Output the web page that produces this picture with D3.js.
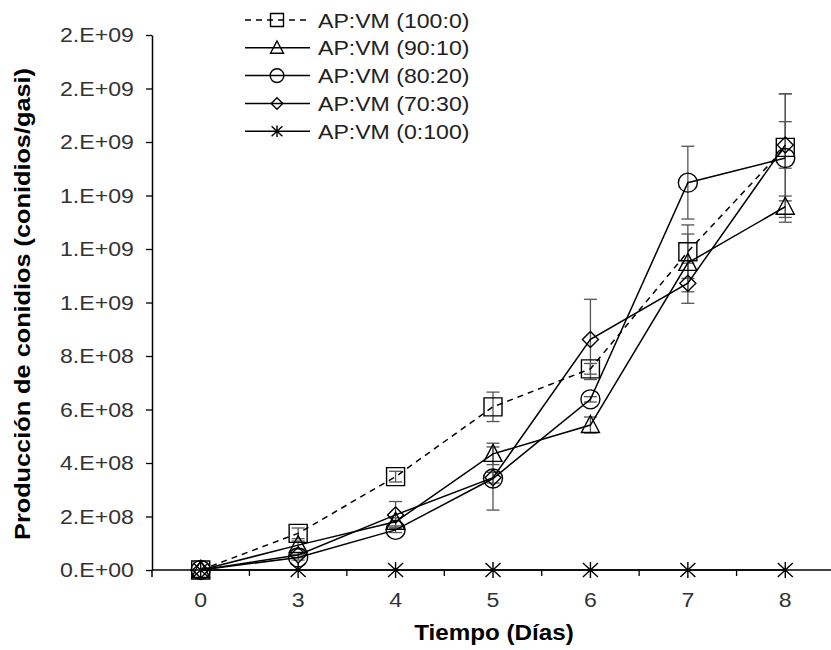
<!DOCTYPE html>
<html><head><meta charset="utf-8">
<script src="https://cdn.jsdelivr.net/npm/d3@7"></script>
<style>body{margin:0;background:#fff}text{font-family:"Liberation Sans",Arial,sans-serif}</style>
</head><body>
<svg id="c" width="831" height="650"></svg>
<script>
// ---- data ----
const days = ["0","3","4","5","6","7","8"];
const seriesNames = ["AP:VM (100:0)","AP:VM (90:10)","AP:VM (80:20)","AP:VM (70:30)","AP:VM (0:100)"];
const v100_0 = [0, 1.37e8, 3.49e8, 6.10e8, 7.52e8, 1.19e9, 1.58e9];
const e100_0 = [0, 0.2e8, 0.2e8, 0.55e8, 0.2e8, 1.0e8, 2.0e8];
const v90_10 = [0, 0.93e8, 1.80e8, 4.34e8, 5.42e8, 1.148e9, 1.358e9];
const e90_10 = [0, 0.15e8, 0.15e8, 0.4e8, 0.3e8, 1.08e8, 0.4e8];
const v80_20 = [0, 0.47e8, 1.50e8, 3.42e8, 6.38e8, 1.448e9, 1.54e9];
const e80_20 = [0, 0.1e8, 0.1e8, 1.18e8, 0.1e8, 1.36e8, 2.4e8];
const v70_30 = [0, 0.56e8, 2.06e8, 3.45e8, 8.62e8, 1.072e9, 1.589e9];
const e70_30 = [0, 0.1e8, 0.5e8, 0.2e8, 1.5e8, 0.75e8, 0.87e8];
const v0_100 = [0, 0, 0, 0, 0, 0, 0];
const e0_100 = [0, 0, 0, 0, 0, 0, 0];
const yTicks = [0, 2e8, 4e8, 6e8, 8e8, 1.0e9, 1.2e9, 1.4e9, 1.6e9, 1.8e9, 2.0e9];
const xTitle = "Tiempo (Días)";
const yTitle = "Producción de conidios (conidios/gasi)";

const seriesVals = [v100_0, v90_10, v80_20, v70_30, v0_100];
const seriesErrs = [e100_0, e90_10, e80_20, e70_30, e0_100];
const markerTypes = ["square","triangle","circle","diamond","star"];
const dashed = [true,false,false,false,false];

// ---- layout ----
const svg = d3.select("#c");
const x = d3.scalePoint().domain(days).range([152, 834]).padding(0.5);
const xb = d3.scaleBand().domain(days).range([152, 834]);
const y = d3.scaleLinear().domain([0, 2e9]).range([570, 35]);

function excelFmt(v){
  const [m, e] = v.toExponential(0).split("e");
  const ex = parseInt(e, 10);
  return m + ".E" + (ex < 0 ? "-" : "+") + String(Math.abs(ex)).padStart(2, "0");
}

// y axis
const yAxis = svg.append("g").attr("transform", "translate(152,0)")
  .call(d3.axisLeft(y).tickValues(yTicks).tickFormat(excelFmt).tickSize(6).tickSizeOuter(0).tickPadding(12));
yAxis.select(".domain").attr("stroke", "#000").attr("stroke-width", 1.5);
yAxis.selectAll(".tick line").attr("stroke", "#000").attr("stroke-width", 1.3);
yAxis.selectAll(".tick text").attr("font-size", 21).attr("fill", "#333")
  .attr("transform", "scale(1.1,1)").attr("x", -16.5);

// x axis
const xg = svg.append("g");
xg.append("line").attr("x1", 152).attr("x2", 834).attr("y1", y(0)).attr("y2", y(0))
  .attr("stroke", "#000").attr("stroke-width", 1.5);
xg.append("line").attr("x1", 152).attr("x2", 152).attr("y1", y(0)).attr("y2", y(0) + 7)
  .attr("stroke", "#000").attr("stroke-width", 1.5);
xg.selectAll(".xt").data(days.slice(1)).enter().append("line")
  .attr("x1", d => xb(d)).attr("x2", d => xb(d))
  .attr("y1", y(0)).attr("y2", y(0) + 6).attr("stroke", "#000").attr("stroke-width", 1.3);
xg.selectAll(".xl").data(days).enter().append("text")
  .attr("transform", d => `translate(${x(d)},${y(0) + 37}) scale(1.1,1)`)
  .attr("text-anchor", "middle").attr("font-size", 21).attr("fill", "#333").text(d => d);

// titles
svg.append("text").attr("transform", `translate(494,640) scale(1.1,1)`)
  .attr("text-anchor", "middle").attr("font-size", 22).attr("font-weight", "bold").text(xTitle);
svg.append("text").attr("transform", `translate(30,304) rotate(-90) scale(1.15,1)`)
  .attr("text-anchor", "middle").attr("font-size", 22).attr("font-weight", "bold").text(yTitle);

// markers
function markerPath(type, k){
  const s = k;
  switch(type){
    case "square": return `M${-9*s},${-9*s}h${18*s}v${18*s}h${-18*s}Z`;
    case "triangle": return `M0,${-9.5*s}L${9*s},${7.5*s}L${-9*s},${7.5*s}Z`;
    case "diamond": return `M0,${-8*s}L${8*s},0L0,${8*s}L${-8*s},0Z`;
    case "star": return `M0,${-8*s}V${8*s}M${-7.5*s},${-7*s}L${7.5*s},${7*s}M${7.5*s},${-7*s}L${-7.5*s},${7*s}`;
  }
}
function drawMarker(g, type, k){
  if(type === "circle"){
    return g.append("circle").attr("r", 9.5*k).attr("fill", "none").attr("stroke", "#000").attr("stroke-width", 1.4);
  }
  return g.append("path").attr("d", markerPath(type, k)).attr("fill", "none")
    .attr("stroke", "#000").attr("stroke-width", 1.4);
}

const plot = svg.append("g");
// error bars
seriesVals.forEach((vals, si) => {
  const errs = seriesErrs[si];
  const eg = plot.append("g").attr("stroke", "#555").attr("stroke-width", 1.3);
  days.forEach((d, i) => {
    if(errs[i] <= 0) return;
    const cx = x(d), y1 = y(vals[i] + errs[i]), y2 = y(vals[i] - errs[i]);
    eg.append("line").attr("x1", cx).attr("x2", cx).attr("y1", y1).attr("y2", y2);
    eg.append("line").attr("x1", cx - 6.5).attr("x2", cx + 6.5).attr("y1", y1).attr("y2", y1);
    eg.append("line").attr("x1", cx - 6.5).attr("x2", cx + 6.5).attr("y1", y2).attr("y2", y2);
  });
});
// lines
const line = d3.line().x((v, i) => x(days[i])).y(v => y(v));
seriesVals.forEach((vals, si) => {
  plot.append("path").datum(vals).attr("d", line).attr("fill", "none")
    .attr("stroke", "#000").attr("stroke-width", 1.5)
    .attr("stroke-dasharray", dashed[si] ? "6,5" : null);
});
// markers
seriesVals.forEach((vals, si) => {
  vals.forEach((v, i) => {
    const g = plot.append("g").attr("transform", `translate(${x(days[i])},${y(v)})`);
    drawMarker(g, markerTypes[si], 1);
  });
});

// legend
const lg = svg.append("g");
seriesNames.forEach((name, i) => {
  const ly = 20 + i * 27.8;
  const row = lg.append("g").attr("transform", `translate(0,${ly})`);
  row.append("line").attr("x1", 245).attr("x2", 310).attr("y1", 0).attr("y2", 0)
    .attr("stroke", "#000").attr("stroke-width", 1.5)
    .attr("stroke-dasharray", dashed[i] ? "6,5" : null);
  drawMarker(row.append("g").attr("transform", "translate(277,0)"), markerTypes[i], 0.72);
  row.append("text").attr("transform", "translate(318,7.5) scale(1.1,1)")
    .attr("font-size", 21).attr("fill", "#222").text(name);
});
</script>
</body></html>
